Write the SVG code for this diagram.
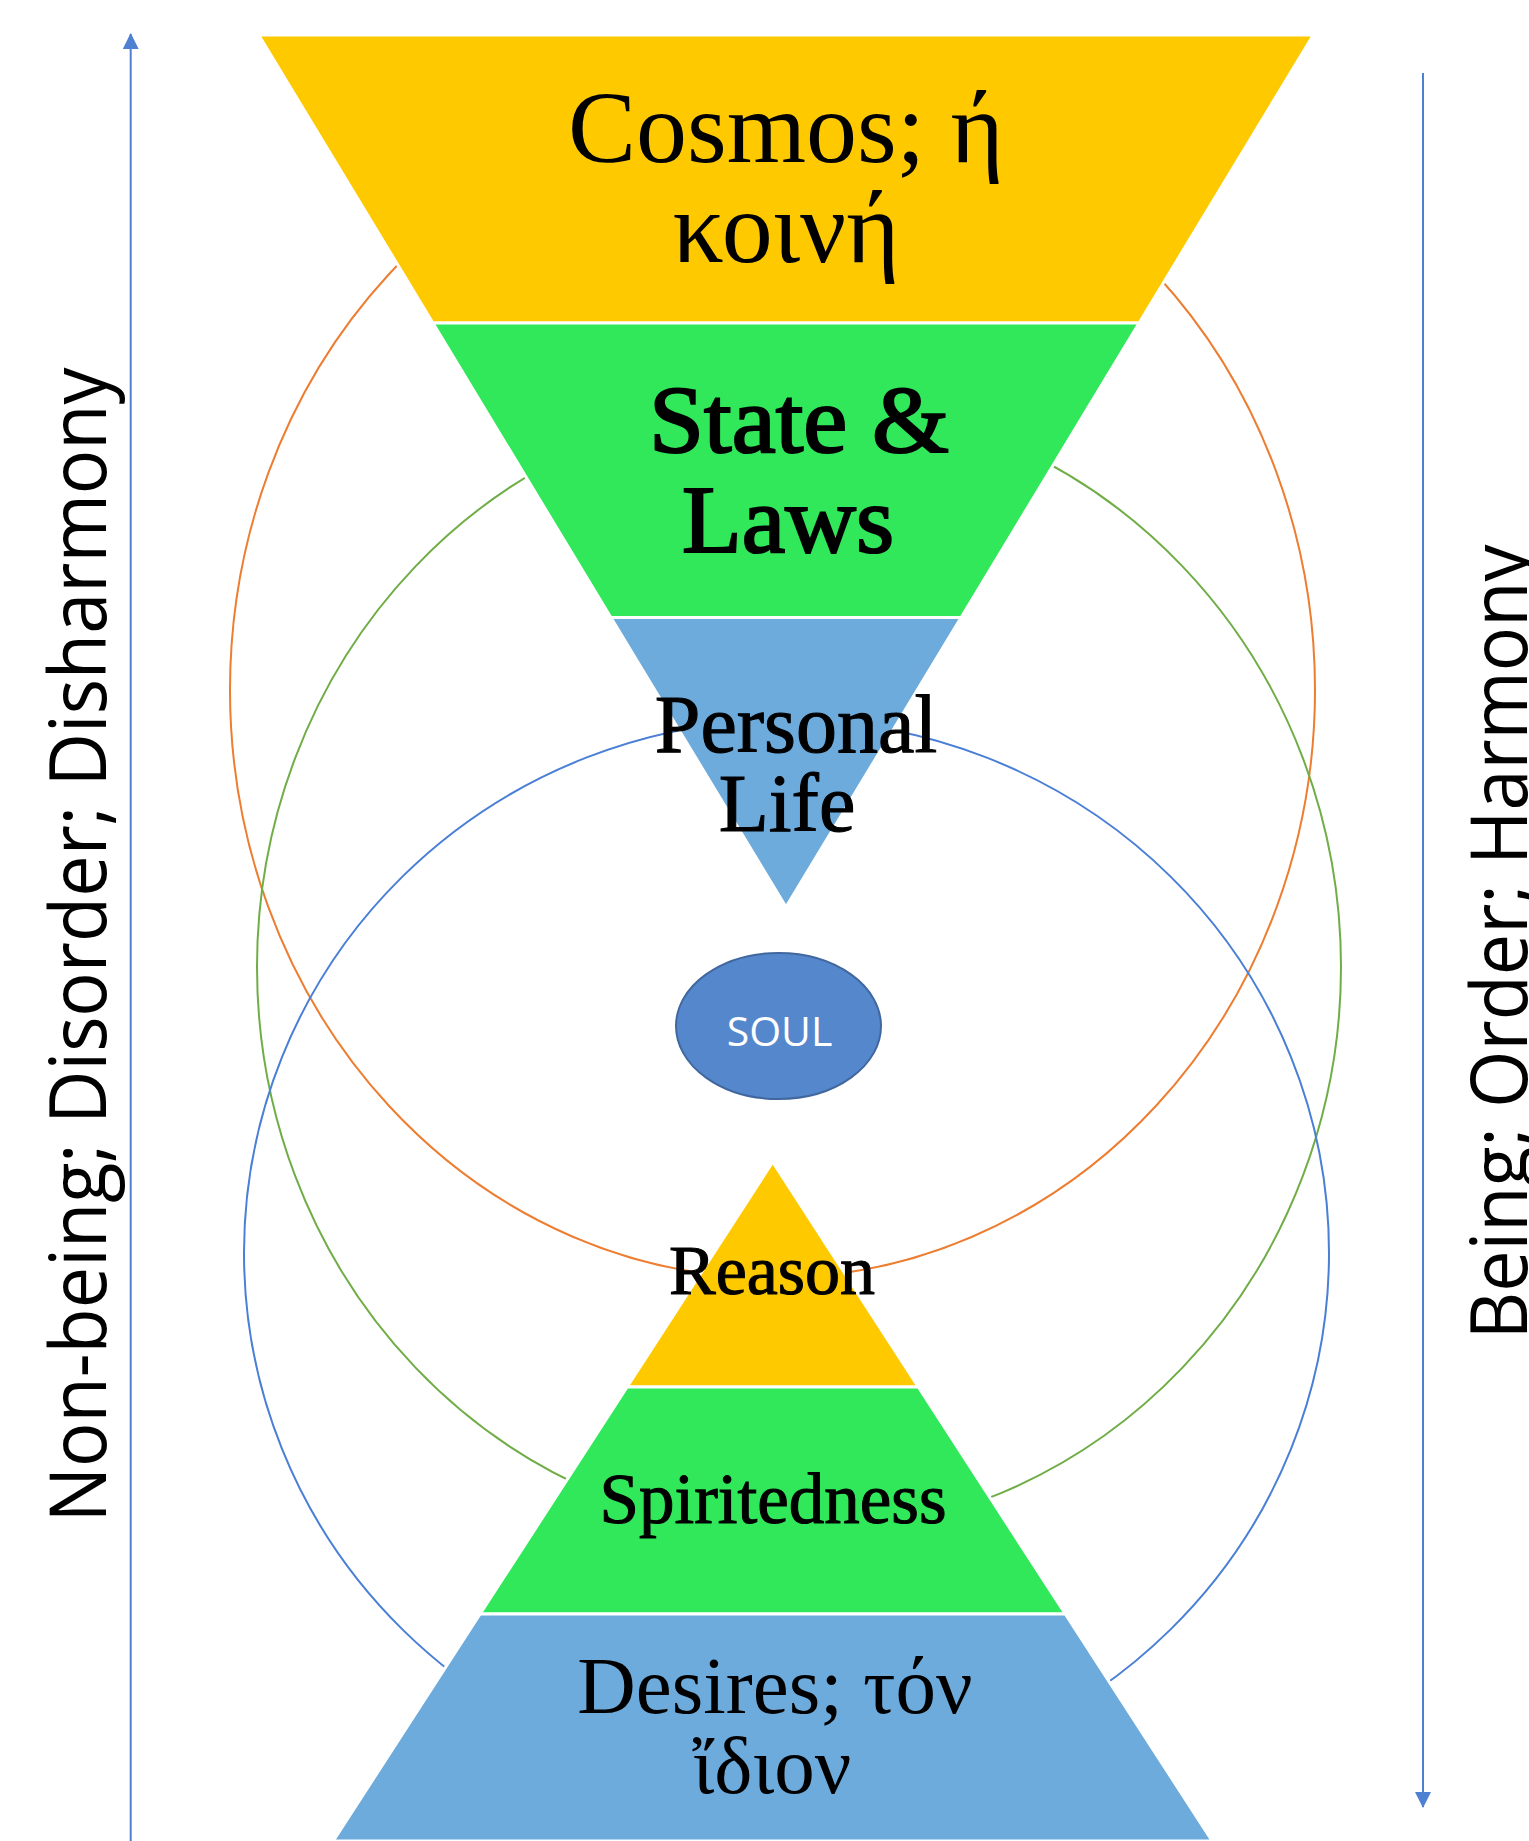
<svg xmlns="http://www.w3.org/2000/svg" width="1529" height="1841" viewBox="0 0 1529 1841">
<style>
.ring{fill:none;stroke-width:2}
.band{stroke:#FFFFFF;stroke-width:3}
.yel{fill:#FFC900}
.grn{fill:#30E85A}
.blu{fill:#6DABDC}
.lbl{font-family:"Liberation Serif","Times New Roman",serif;fill:#000;text-anchor:middle}
.heavy{stroke:#000;stroke-width:2.2}
.semi{stroke:#000;stroke-width:1.1}
.side{font-family:"Open Sans","Liberation Sans",sans-serif;fill:#000;text-anchor:middle;font-size:78px}
.axis{stroke:#4F81D3;stroke-width:2;fill:none}
</style>
<defs>
<marker id="ah" markerWidth="16" markerHeight="16" refX="15" refY="8" orient="auto" markerUnits="userSpaceOnUse">
<path d="M0,0 L16,8 L0,16 z" fill="#4F81D3"/>
</marker>
</defs>
<rect x="0" y="0" width="1529" height="1841" fill="#FFFFFF"/>
<g id="rings">
<ellipse id="ring-orange" class="ring" cx="772.5" cy="690" rx="542.5" ry="588" stroke="#ED7D31"/>
<ellipse id="ring-green" class="ring" cx="799" cy="967" rx="542" ry="567" stroke="#70AD47"/>
<ellipse id="ring-blue" class="ring" cx="786.5" cy="1253" rx="542.5" ry="533" stroke="#4A7FD6"/>
</g>
<g id="cosmos">
<polygon class="band yel" points="258.7,35 1313.3,35 1139.1,323 432.9,323"/>
<text class="lbl" x="786" y="162" font-size="102">Cosmos; ή</text>
<text class="lbl" x="786" y="262" font-size="102">κοινή</text>
</g>
<g id="state">
<polygon class="band grn" points="432.9,323 1139.1,323 961.1,617.5 610.9,617.5"/>
<text class="lbl heavy" x="799" y="452" font-size="96" textLength="300" lengthAdjust="spacingAndGlyphs">State &amp;</text>
<text class="lbl heavy" x="788" y="552" font-size="96" textLength="212" lengthAdjust="spacingAndGlyphs">Laws</text>
</g>
<g id="personal">
<polygon class="band blu" points="610.9,617.5 961.1,617.5 786,907"/>
<text class="lbl semi" x="796" y="752" font-size="82">Personal</text>
<text class="lbl semi" x="787" y="831" font-size="82">Life</text>
</g>
<g id="soul">
<ellipse cx="778.5" cy="1026" rx="102.5" ry="73" fill="#5587CD" stroke="#41679F" stroke-width="2"/>
<text x="779.5" y="1045.5" font-family="Open Sans, Liberation Sans, sans-serif" font-size="41" fill="#FFFFFF" text-anchor="middle">SOUL</text>
</g>
<g id="reason">
<polygon class="band yel" points="772.7,1162 918.3,1387 627.1,1387"/>
<text class="lbl semi" x="772" y="1294" font-size="70">Reason</text>
</g>
<g id="spiritedness">
<polygon class="band grn" points="627.1,1387 918.3,1387 1065.3,1614 480.1,1614"/>
<text class="lbl semi" x="773" y="1523" font-size="71">Spiritedness</text>
</g>
<g id="desires">
<polygon class="band blu" points="480.1,1614 1065.3,1614 1212.2,1841 333.2,1841"/>
<text class="lbl" x="775" y="1713" font-size="81">Desires; τόν</text>
<text class="lbl" x="772" y="1793" font-size="81">ἴδιον</text>
</g>
<g id="connectors">
<line class="axis" x1="130.7" y1="1841" x2="130.7" y2="34" marker-end="url(#ah)"/>
<line class="axis" x1="1423" y1="73" x2="1423" y2="1807" marker-end="url(#ah)"/>
</g>
<g id="side-left">
<text class="side" transform="translate(106,945) rotate(-90)" textLength="1155" lengthAdjust="spacingAndGlyphs">Non-being; Disorder; Disharmony</text>
</g>
<g id="side-right">
<text class="side" transform="translate(1527,942) rotate(-90)" textLength="795" lengthAdjust="spacingAndGlyphs">Being; Order; Harmony</text>
</g>
</svg>
